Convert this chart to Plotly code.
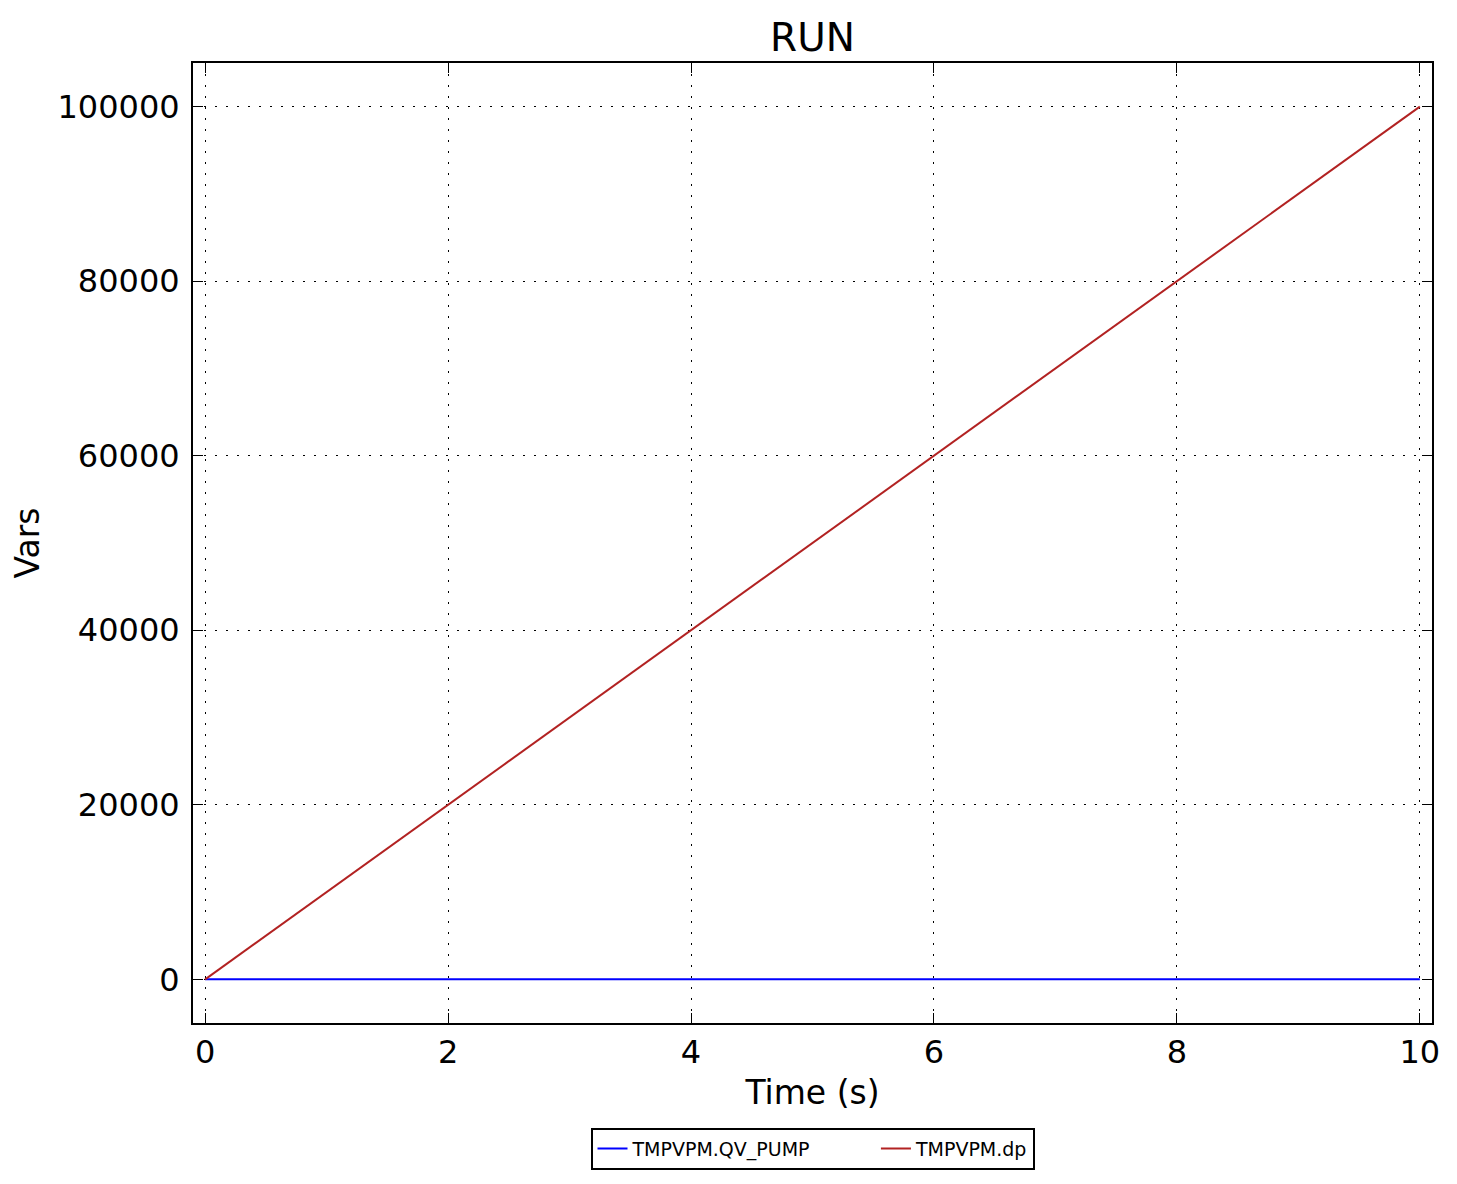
import plotly.graph_objects as go

time_s = [0, 10]
qv_pump = [0, 0]
dp = [0, 100000]

x_ticks = [0, 2, 4, 6, 8, 10]
y_ticks = [0, 20000, 40000, 60000, 80000, 100000]

series_names = ["TMPVPM.QV_PUMP", "TMPVPM.dp"]

fig = go.Figure()
fig.add_trace(go.Scatter(x=time_s, y=qv_pump, mode="lines",
                         name=series_names[0] + "\u00a0" * 10,
                         line=dict(color="#0000ff", width=2)))
fig.add_trace(go.Scatter(x=time_s, y=dp, mode="lines", name=series_names[1],
                         line=dict(color="#b22222", width=2)))

axis_common = dict(
    showline=True, linecolor="black", linewidth=2, mirror="ticks",
    ticks="inside", ticklen=10, tickwidth=1, tickcolor="black",
    showgrid=True, gridcolor="black", gridwidth=1, griddash="2px,9px",
    zeroline=False, tickfont=dict(size=32, color="black"),
)

fig.update_layout(
    width=1449, height=1176,
    paper_bgcolor="white", plot_bgcolor="white",
    font=dict(family="DejaVu Sans", color="black"),
    margin=dict(l=185, r=25, t=55, b=161),
    title=dict(text="RUN", x=0.5, xref="paper", xanchor="center",
               y=1 - 29 / 1176, yanchor="middle",
               font=dict(size=39, color="black")),
    xaxis=dict(range=[-0.1, 10.1], tickvals=x_ticks, ticktext=[str(v) for v in x_ticks],
               title=dict(text="Time (s)", font=dict(size=33), standoff=10), **axis_common),
    yaxis=dict(range=[-5000, 105000], tickvals=y_ticks, ticktext=[str(v) for v in y_ticks],
               ticklabelstandoff=5,
               title=dict(text="Vars", font=dict(size=33), standoff=11), **axis_common),
    legend=dict(orientation="h", x=0.5, xanchor="center", y=-0.109, yanchor="top",
                bordercolor="black", borderwidth=2, bgcolor="white",
                font=dict(size=19, color="black"), tracegroupgap=0),
    showlegend=True,
)

fig.write_html("out.html")
